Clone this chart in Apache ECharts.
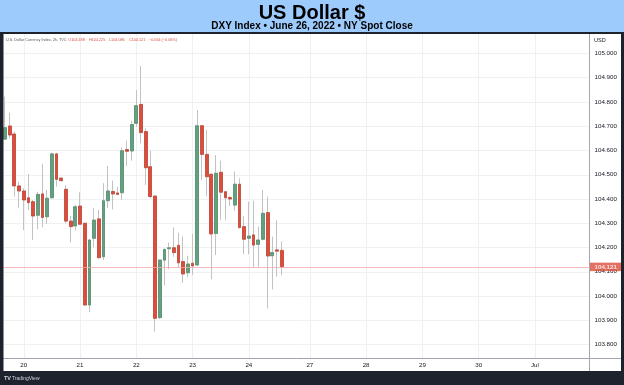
<!DOCTYPE html>
<html><head><meta charset="utf-8">
<script src="https://cdn.jsdelivr.net/npm/echarts@6/dist/echarts.min.js"></script>
<style>html,body{margin:0;padding:0;background:#fff}#c{width:624px;height:385px}</style>
</head><body><div id="c"></div>
<script>
// 2h candles, DXY (TVC), bar index 0..59
const opens  = [104.647,104.701,104.668,104.454,104.433,104.405,104.389,104.333,104.421,104.327,
                104.405,104.586,104.486,104.440,104.309,104.289,104.371,104.300,103.963,104.238,
                104.318,104.162,104.393,104.431,104.425,104.426,104.604,104.598,104.712,104.790,
                104.678,104.533,104.412,103.911,104.148,104.195,104.199,104.209,104.142,104.096,
                104.135,104.128,104.702,104.584,104.502,104.258,104.510,104.430,104.406,104.375,
                104.461,104.286,104.238,104.252,104.213,104.234,104.344,104.166,104.190,104.188];
const closes = [104.694,104.664,104.454,104.433,104.396,104.385,104.330,104.419,104.324,104.403,
                104.586,104.481,104.476,104.309,104.286,104.368,104.296,103.963,104.231,104.313,
                104.158,104.393,104.433,104.421,104.419,104.599,104.597,104.707,104.785,104.674,
                104.529,104.410,103.908,104.148,104.192,104.199,104.179,104.137,104.091,104.132,
                104.124,104.702,104.584,104.492,104.256,104.506,104.428,104.405,104.400,104.461,
                104.282,104.234,104.247,104.210,104.231,104.341,104.165,104.179,104.185,104.121];
const lows   = [104.645,104.650,104.410,104.364,104.272,104.355,104.231,104.275,104.283,104.297,
                104.403,104.451,104.471,104.300,104.221,104.269,104.293,103.960,103.933,104.201,
                104.155,104.148,104.362,104.357,104.415,104.396,104.536,104.558,104.698,104.630,
                104.458,104.403,103.853,103.905,104.045,104.111,104.162,104.117,104.055,104.077,
                104.087,104.124,104.478,104.412,104.069,104.169,104.313,104.313,104.371,104.351,
                104.279,104.173,104.172,104.118,104.121,104.230,103.949,104.027,104.080,104.086];
const highs  = [104.822,104.756,104.678,104.471,104.444,104.503,104.396,104.430,104.544,104.437,
                104.591,104.590,104.490,104.458,104.331,104.375,104.428,104.302,104.233,104.362,
                104.355,104.465,104.536,104.476,104.450,104.613,104.641,104.723,104.849,104.948,
                104.691,104.599,104.415,104.152,104.197,104.220,104.283,104.261,104.245,104.166,
                104.256,104.767,104.705,104.685,104.505,104.581,104.558,104.432,104.412,104.513,
                104.485,104.330,104.389,104.393,104.286,104.437,104.410,104.245,104.313,104.225];

const dayTickBars   = [4, 16, 28, 40, 52, 65, 77, 89, 101, 113];
const dayTickLabels = ['20', '21', '22', '23', '24', '27', '28', '29', '30', 'Jul'];
const priceTicks = [103.8, 103.9, 104.0, 104.1, 104.2, 104.3, 104.4, 104.5, 104.6, 104.7, 104.8, 104.9, 105.0];

const titleText = 'US Dollar $';
const subtitleText = 'DXY Index \u2022 June 26, 2022 \u2022 NY Spot Close';
const symbolText = 'U.S. Dollar Currency Index, 2h, TVC';

const n = opens.length;
const lastO = opens[n-1], lastH = highs[n-1], lastL = lows[n-1], lastC = closes[n-1];
const chg = lastC - closes[n-2];
const pct = chg / closes[n-2] * 100;
const fmtSigned = (v, d) => (v < 0 ? '\u2212' : '+') + Math.abs(v).toFixed(d);

const wickData = opens.map((o, i) => [i, o, closes[i], lows[i], highs[i]]);
const bodyData = opens.map((o, i) => [i, o, closes[i], Math.min(o, closes[i]), Math.max(o, closes[i])]);

const FONT = '"Liberation Sans", Arial, sans-serif';
const RED = '#dc4d3b', GREEN = '#62a07f', DARK = '#1e222d';

const chart = echarts.init(document.getElementById('c'), null, {renderer: 'canvas'});
const txt = (text, x, y, font, fill, align) => ({
  type: 'text', silent: true, z: 10,
  style: {text, x, y, font, fill, textAlign: align || 'left', align: align || 'left',
          textVerticalAlign: 'middle', verticalAlign: 'middle'}
});
const rect = (x, y, width, height, fill) => ({type: 'rect', silent: true, z: 9, shape: {x, y, width, height}, style: {fill}});
const SMALL = '3.75px ' + FONT;

chart.setOption({
  animation: false,
  backgroundColor: '#ffffff',
  grid: {left: 3.5, right: 34.5, top: 34, bottom: 26.5},
  xAxis: {
    type: 'value', min: -0.32, max: 124.63,
    axisLine: {show: true, onZero: false, lineStyle: {color: '#a3a6af', width: 1}},
    axisTick: {show: false, customValues: dayTickBars},
    axisLabel: {customValues: dayTickBars, formatter: v => dayTickLabels[dayTickBars.indexOf(v)],
                color: '#131722', fontSize: 6.2, fontFamily: FONT, margin: 3.5},
    splitLine: {show: true, lineStyle: {color: '#eef0f3', width: 1}}
  },
  yAxis: {
    type: 'value', position: 'right', min: 103.7423, max: 105.0804,
    axisLine: {show: true, onZero: false, lineStyle: {color: '#a3a6af', width: 1}},
    axisTick: {show: false, customValues: priceTicks},
    axisLabel: {customValues: priceTicks, formatter: v => v.toFixed(3),
                color: '#131722', fontSize: 6.2, fontFamily: FONT, margin: 5},
    splitLine: {show: true, lineStyle: {color: '#eef0f3', width: 1}}
  },
  series: [
    {
      type: 'candlestick', name: 'wicks', data: wickData, encode: {x: 0, y: [1, 2, 3, 4]},
      barWidth: 3.3, silent: true, z: 2,
      itemStyle: {color: 'rgba(0,0,0,0)', color0: 'rgba(0,0,0,0)', borderColor: '#c2c2c2', borderColor0: '#c2c2c2', borderWidth: 1}
    },
    {
      type: 'candlestick', name: 'bodies', data: bodyData, encode: {x: 0, y: [1, 2, 3, 4]},
      barWidth: 3.3, silent: true, z: 3,
      itemStyle: {color: GREEN, color0: RED, borderColor: '#4f8d6c', borderColor0: '#c23f2f', borderWidth: 0.7}
    },
    {
      type: 'line', data: [], clip: false, silent: true, z: 1,
      markLine: {
        silent: true, symbol: ['none', 'none'], animation: false,
        data: [{yAxis: lastC}],
        lineStyle: {color: '#f5aaaa', width: 1, type: 'solid', opacity: 0.8},
        label: {show: true, position: 'end', distance: 0.5, formatter: lastC.toFixed(3),
                color: '#fff', fontSize: 6.2, fontWeight: 'bold', fontFamily: FONT,
                backgroundColor: RED, padding: [1.5, 4.5, 1, 4.5]},
        emphasis: {disabled: true}
      }
    }
  ],
  graphic: [
    rect(0, 0, 624, 32, '#9ccbfc'),
    rect(0, 32, 624, 2, DARK),
    rect(0, 32, 3.5, 353, DARK),
    rect(621, 32, 3, 353, DARK),
    rect(0, 371, 624, 14, DARK),
    {type: 'line', silent: true, z: 8, shape: {x1: 589, y1: 358.5, x2: 621, y2: 358.5}, style: {stroke: '#a3a6af', lineWidth: 1}},
    {type: 'line', silent: true, z: 8, shape: {x1: 589.5, y1: 358, x2: 589.5, y2: 371}, style: {stroke: '#a3a6af', lineWidth: 1}},
    txt(titleText, 312, 13.5, 'bold 20px ' + FONT, '#000', 'center'),
    txt(subtitleText, 312, 26.5, 'bold 10px ' + FONT, '#000', 'center'),
    txt(symbolText, 6, 40, SMALL, '#555'),
    txt('O' + lastO.toFixed(3), 68.3, 40, SMALL, RED),
    txt('H' + lastH.toFixed(3), 89, 40, SMALL, RED),
    txt('L' + lastL.toFixed(3), 109, 40, SMALL, RED),
    txt('C' + lastC.toFixed(3), 129, 40, SMALL, RED),
    txt(fmtSigned(chg, 3) + ' (' + fmtSigned(pct, 2) + '%)', 149, 40, SMALL, RED),
    txt('USD', 594, 40, '5.5px ' + FONT, '#131722'),
    txt('TV', 4, 378.5, 'bold 5.5px ' + FONT, '#d1d4dc'),
    txt('TradingView', 12, 378.5, '5px ' + FONT, '#d1d4dc')
  ]
});
</script>
</body></html>
